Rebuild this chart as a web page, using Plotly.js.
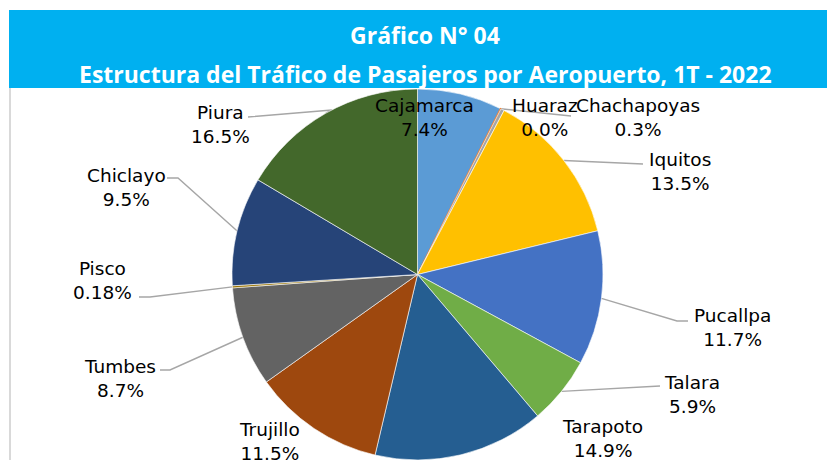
<!DOCTYPE html>
<html>
<head>
<meta charset="utf-8">
<script src="https://cdn.plot.ly/plotly-3.0.1.min.js"></script>
<style>html,body{margin:0;padding:0;background:#fff;}#chart{width:827px;height:460px;}</style>
</head>
<body>
<div id="chart"></div>
<script>
// ---- data ----
const airports = ["Cajamarca","Huaraz","Chachapoyas","Iquitos","Pucallpa","Talara","Tarapoto","Trujillo","Tumbes","Pisco","Chiclayo","Piura"];
const shares   = [7.4, 0.04, 0.3, 13.5, 11.7, 5.9, 14.9, 11.5, 8.7, 0.18, 9.5, 16.5];
const decimals = [1, 1, 1, 1, 1, 1, 1, 1, 1, 2, 1, 1];
const titleText = "Gráfico N° 04";
const subtitleText = "Estructura del Tráfico de Pasajeros por Aeropuerto, 1T - 2022";

// ---- styling / layout ----
const colors = ["#5B9BD5","#ED7D31","#A5A5A5","#FFC000","#4472C4","#70AD47","#255E91","#9E480E","#636363","#997300","#264478","#43682B"];
const borderColors = colors.map((c,i)=> i===1 ? c : '#FFFFFF');
const borderWidths = colors.map((c,i)=> i===1 ? 1.6 : 0.6);
// label block centres (pixels)
const labelPos = [[424,117],[545,117],[638,117],[680,171],[732,327],[692,394],[602,438],[269,441],[120,378],[102,280],[126,187],[220,124]];
// leader line elbow points (pixels), from pie edge toward label
const leaders = {
  1: [[571,116]],
  3: [[643,164]],
  4: [[677,321],[688,321]],
  5: [[660,386]],
  8: [[170,370],[160,370]],
  9: [[150,297],[139,297]],
  10: [[178,178],[167,178]],
  11: [[332,110],[248,117]]
};

const W = 827, H = 460;
const M = {l:232, r:224, t:89, b:0};
const PW = W - M.l - M.r, PH = H - M.t - M.b;
const px = x => (x - M.l) / PW;
const py = y => (H - M.b - y) / PH;
const cx = M.l + PW/2, cy = M.t + PH/2, R = Math.min(PW, PH)/2;

const total = shares.reduce((a,b)=>a+b,0);
function edgePoint(i){
  let before = 0;
  for (let k=0;k<i;k++) before += shares[k];
  const a = (before + shares[i]/2)/total * 2*Math.PI;
  return [cx + R*Math.sin(a), cy - R*Math.cos(a)];
}

const shapes = [
  {type:'rect', xref:'paper', yref:'paper', x0:px(9), x1:px(832), y0:py(88), y1:py(10),
   fillcolor:'#00B0F0', line:{width:0}, layer:'below'},
  {type:'line', xref:'paper', yref:'paper', x0:px(10), x1:px(10), y0:py(88), y1:py(462),
   line:{color:'#D9D9D9', width:2}, layer:'below'}
];
Object.keys(leaders).forEach(k => {
  const i = +k;
  const pts = [edgePoint(i)].concat(leaders[k]);
  const path = pts.map((p,j)=> (j?'L':'M') + px(p[0]).toFixed(5) + ',' + py(p[1]).toFixed(5)).join(' ');
  shapes.push({type:'path', xref:'paper', yref:'paper', path:path,
    line:{color:'#A6A6A6', width:1.4}, layer:'below'});
});

const annotations = airports.map((name,i)=>({
  xref:'paper', yref:'paper', x:px(labelPos[i][0]), y:py(labelPos[i][1]),
  xanchor:'center', yanchor:'middle', showarrow:false, align:'center',
  text: name + '<br>' + shares[i].toFixed(decimals[i]) + '%',
  font:{family:'DejaVu Sans', size:18.5, color:'#000000'}
}));
annotations.push({
  xref:'paper', yref:'paper', x:px(425), y:py(74), xanchor:'center', yanchor:'middle',
  showarrow:false, text:'<b>'+subtitleText+'</b>',
  font:{family:'Open Sans', size:23, color:'#FFFFFF'}
});

const trace = {
  type:'pie', labels:airports, values:shares, sort:false, direction:'clockwise', rotation:0,
  marker:{colors:colors, line:{color:borderColors, width:borderWidths}},
  textinfo:'none', hoverinfo:'label+percent', showlegend:false
};

const layout = {
  width:W, height:H, margin:M, showlegend:false,
  paper_bgcolor:'#FFFFFF', plot_bgcolor:'#FFFFFF',
  title:{text:'<b>'+titleText+'</b>', x:425/W, y:1-36/H, xanchor:'center', yanchor:'middle',
         font:{family:'Open Sans', size:23, color:'#FFFFFF'}},
  shapes:shapes, annotations:annotations
};

Plotly.newPlot('chart', [trace], layout, {displayModeBar:false, staticPlot:true});
</script>
</body>
</html>
